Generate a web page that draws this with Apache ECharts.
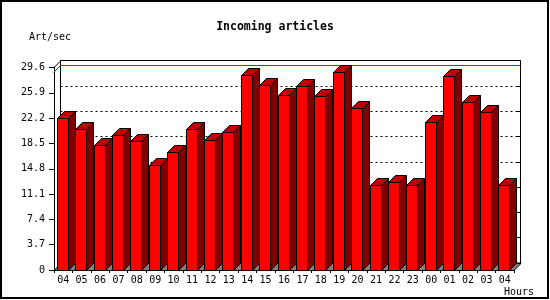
<!DOCTYPE html>
<html><head><meta charset="utf-8">
<script src="https://cdn.jsdelivr.net/npm/echarts@6/dist/echarts.min.js"></script>
<style>html,body{margin:0;padding:0;background:#fff}#c{width:550px;height:300px}</style>
</head><body><div id="c"></div>
<script>
const hours = ['04','05','06','07','08','09','10','11','12','13','14','15','16','17','18','19','20','21','22','23','00','01','02','03','04'];
const artPerSec = [22.2, 20.6, 18.3, 19.8, 18.9, 15.4, 17.2, 20.6, 19.0, 20.2, 28.5, 27.1, 25.6, 26.9, 25.5, 29.0, 23.7, 12.4, 12.9, 12.4, 21.7, 28.4, 24.6, 23.1, 12.4];
const yMax = 29.6;
const yStep = 3.7;
const titleText = 'Incoming articles';
const yName = 'Art/sec';
const xName = 'Hours';

const DEPTH = 7;
const FONT = '"DejaVu Sans Mono", "Liberation Mono", monospace';
const maxVal = Math.max(...artPerSec);
const chart = echarts.init(document.getElementById('c'), null, {renderer: 'canvas'});
const fmt = v => (v === 0 ? '0' : (+v).toFixed(1));

const option = {
  animation: false,
  backgroundColor: '#fff',
  title: {text: titleText, left: 'center', top: 21, padding: 0,
    textStyle: {fontFamily: FONT, fontSize: 11.5, fontWeight: 'bold', color: '#000'}},
  graphic: [
    {type: 'rect', shape: {x: 1, y: 1, width: 547, height: 297}, style: {fill: 'none', stroke: '#000', lineWidth: 2}, z: 100},
    {type: 'text', x: 50, y: 37, style: {text: yName, font: '10px ' + FONT, fill: '#000', align: 'center', verticalAlign: 'middle'}},
    {type: 'text', x: 519, y: 292, style: {text: xName, font: '10px ' + FONT, fill: '#000', align: 'center', verticalAlign: 'middle'}}
  ],
  grid: [
    {left: 54, top: 67.5, width: 460, height: 202.5},
    {left: 60.5, top: 60.5, width: 460, height: 202.5, show: true, borderColor: '#000', borderWidth: 1, backgroundColor: 'transparent'}
  ],
  xAxis: [
    {type: 'category', gridIndex: 0, data: hours, boundaryGap: true,
      axisLine: {show: true, lineStyle: {color: '#000', width: 1}},
      axisTick: {show: true, length: 3, interval: 0, lineStyle: {color: '#000'}},
      axisLabel: {fontFamily: FONT, fontSize: 10, color: '#000', margin: 5, interval: 0},
      splitLine: {show: false}},
    {type: 'value', gridIndex: 1, min: 0, max: 1, show: false}
  ],
  yAxis: [
    {type: 'value', gridIndex: 0, min: 0, max: yMax, interval: yStep,
      axisLine: {show: true, lineStyle: {color: '#000', width: 1}},
      axisTick: {show: true, length: 5, lineStyle: {color: '#000'}},
      axisLabel: {fontFamily: FONT, fontSize: 10, color: '#000', margin: 9, formatter: fmt},
      splitLine: {show: false}},
    {type: 'value', gridIndex: 1, min: 0, max: yMax, interval: yStep,
      axisLine: {show: false}, axisTick: {show: false}, axisLabel: {show: false},
      splitLine: {show: true, lineStyle: {color: '#000', width: 1, type: [2, 3]}}},
    {type: 'value', gridIndex: 1, position: 'right', min: 0, max: yMax, interval: yStep,
      axisLine: {show: false}, axisTick: {show: true, inside: true, length: 4, lineStyle: {color: '#000'}},
      axisLabel: {show: false}, splitLine: {show: false}}
  ],
  series: [
    {
      type: 'custom', xAxisIndex: 1, yAxisIndex: 1, z: 1, silent: true,
      data: [[0, maxVal]],
      renderItem(params, api) {
        const v = api.value(1);
        const p = api.coord([0, v]);
        const q = api.coord([1, v]);
        const y = Math.round(p[1]) + 0.5;
        return {type: 'polyline', shape: {points: [[p[0] - DEPTH, y + DEPTH], [p[0], y], [q[0], y]]},
          style: {stroke: '#ff0000', lineWidth: 1, fill: null}};
      }
    },
    {
      type: 'custom', xAxisIndex: 0, yAxisIndex: 0, z: 1, silent: true,
      data: [[0, 0]],
      renderItem(params, api) {
        const cs = params.coordSys;
        const x0 = cs.x, x1 = cs.x + cs.width;
        const yb = Math.round(cs.y + cs.height) + 0.5;
        const yt = cs.y;
        return {type: 'group', children: [
          {type: 'polygon', shape: {points: [[x0, yb], [x1, yb], [x1 + DEPTH, yb - DEPTH], [x0 + DEPTH, yb - DEPTH]]},
            style: {fill: '#808080', stroke: '#000', lineWidth: 1}},
          {type: 'line', shape: {x1: x0, y1: yt, x2: x0 + DEPTH, y2: yt - DEPTH}, style: {stroke: '#000', lineWidth: 1}}
        ]};
      }
    },
    {
      type: 'custom', xAxisIndex: 0, yAxisIndex: 0, z: 3, silent: true,
      data: artPerSec.map((v, i) => [i, v]),
      renderItem(params, api) {
        const i = api.value(0), v = api.value(1);
        const top = api.coord([i, v]);
        const base = api.coord([i, 0]);
        const bw = api.size([1, 0])[0];
        const xl = Math.round(top[0] - bw * 0.353) + 0.5;
        const xr = xl + Math.round(bw * 0.6);
        const yt = Math.round(top[1]) + 0.5;
        const yb = Math.round(base[1]) + 0.5;
        const d = DEPTH;
        return {type: 'group', children: [
          {type: 'polygon', shape: {points: [[xr, yt], [xr + d, yt - d], [xr + d, yb - d], [xr, yb]]},
            style: {fill: '#800000', stroke: '#000', lineWidth: 1}},
          {type: 'polygon', shape: {points: [[xl, yt], [xr, yt], [xr + d, yt - d], [xl + d, yt - d]]},
            style: {fill: '#c00000', stroke: '#000', lineWidth: 1}},
          {type: 'rect', shape: {x: xl, y: yt, width: xr - xl, height: yb - yt},
            style: {fill: '#ff0000', stroke: '#000', lineWidth: 1}}
        ]};
      }
    }
  ]
};
chart.setOption(option);
</script>
</body></html>
